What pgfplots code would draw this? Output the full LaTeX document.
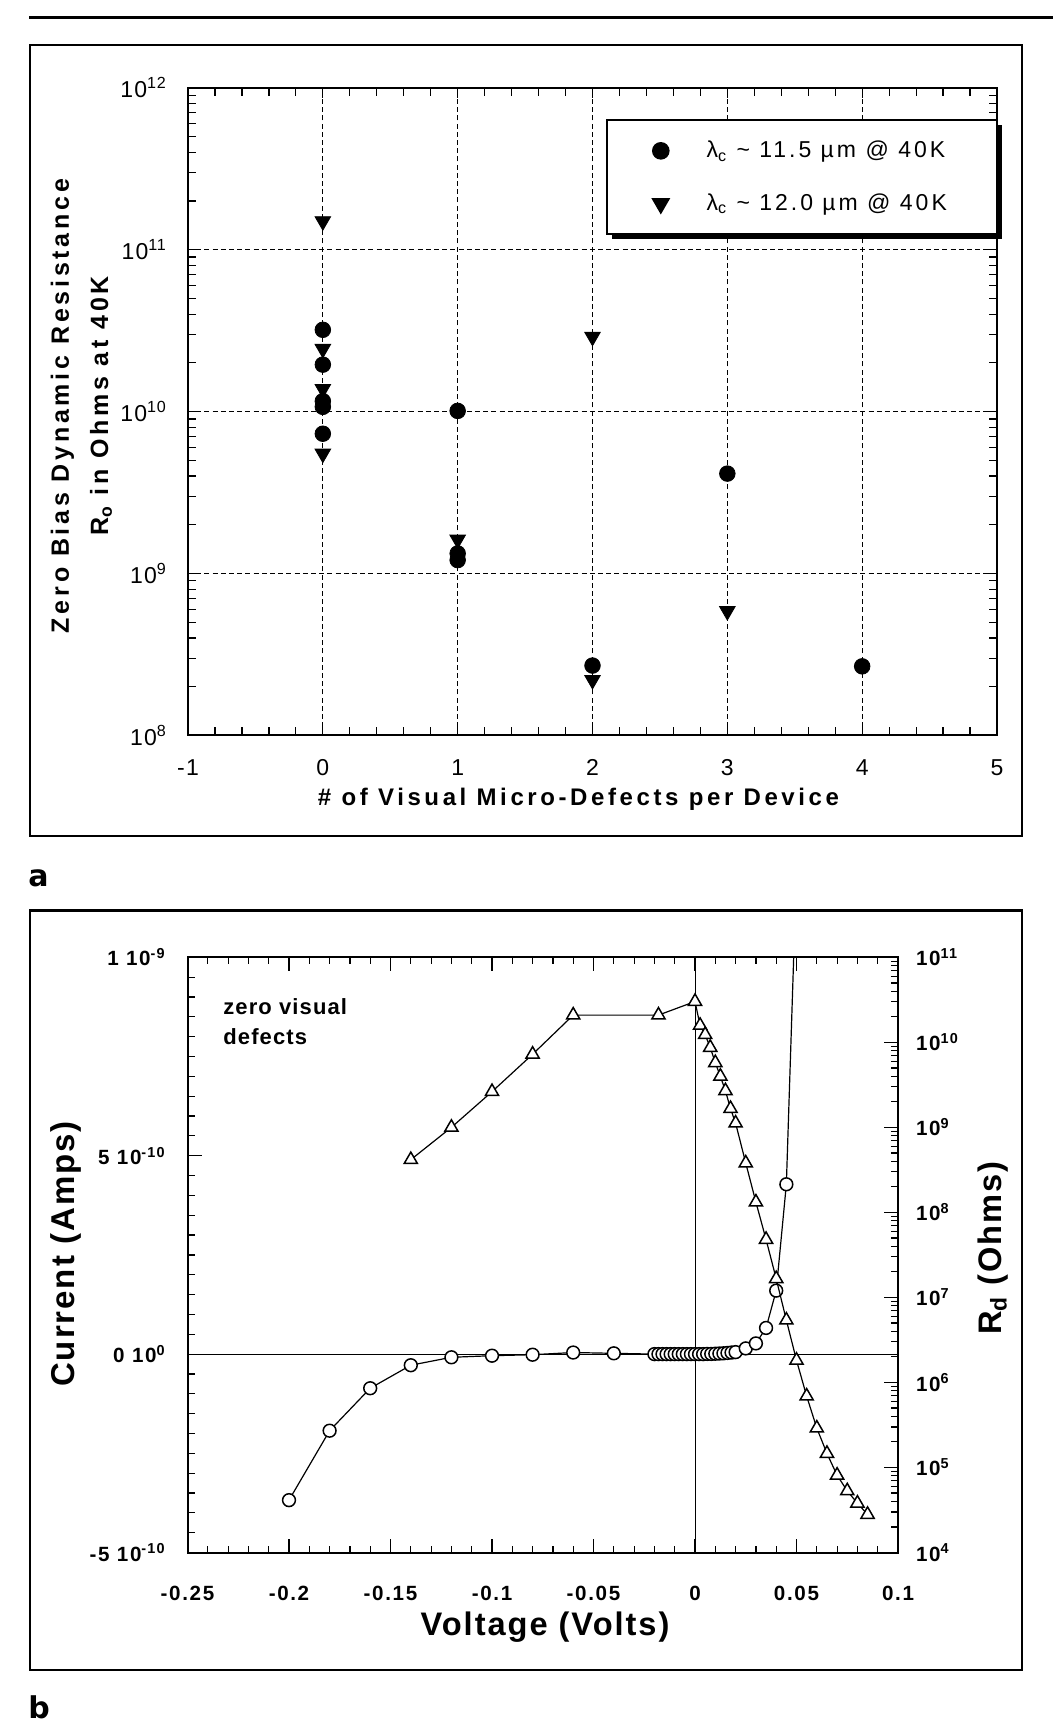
\documentclass[border=0pt]{standalone}
\usepackage{fontspec}
\setmainfont{Liberation Sans}
\newfontfamily\lsXL[LetterSpace=15]{Liberation Sans}
\newfontfamily\lsL[LetterSpace=13]{Liberation Sans}
\newfontfamily\lsM[LetterSpace=8]{Liberation Sans}
\newfontfamily\lsB[LetterSpace=6]{Liberation Sans}
\newfontfamily\lsS[LetterSpace=5]{Liberation Sans}
\newfontfamily\dvs{DejaVu Sans}
\usepackage{pgfplots}
\pgfplotsset{compat=1.18}
\usetikzlibrary{shadows}
\begin{document}
\begin{tikzpicture}
\begin{scope}[x=0.5pt,y=-0.5pt]
\path[use as bounding box] (0,0) rectangle (1053,1728);
\fill[white] (0,0) rectangle (1053,1728);
\draw[line width=1.5pt] (29,18) -- (1053,18);
\draw[line width=1.4pt] (30,45) rectangle (1022,836);
\draw[line width=1.4pt] (30,910.5) rectangle (1022,1670);
\end{scope}

% ---------------- panel a ----------------
\begin{axis}[
  at={(94pt,-367.7pt)}, anchor=south west,
  width=404.5pt, height=323.8pt, scale only axis,
  xmin=-1, xmax=5, ymode=log, ymin=1e8, ymax=1e12,
  xtick={-1,0,1,2,3,4,5}, xticklabels={-1,0,1,2,3,4,5},
  ytick={1e8,1e9,1e10,1e11,1e12},
  yticklabels={10\textsuperscript{8},10\textsuperscript{9},10\textsuperscript{10},10\textsuperscript{11},10\textsuperscript{12}},
  minor x tick num=4,
  tick align=inside,
  major tick length=5pt, minor tick length=4pt,
  axis line style={line width=1pt},
  tick style={black, line width=0.6pt},
  grid=major,
  major grid style={black, line width=0.6pt, dash pattern=on 2.5pt off 1.6pt},
  ticklabel style={font=\lsS\fontsize{11.5}{13}\selectfont},
  xticklabel style={yshift=-8.6pt},
  yticklabel style={xshift=-7pt},
  legend cell align=left,
  legend image code/.code={\draw[mark repeat=2,mark phase=2,#1] plot coordinates {(0pt,0pt) (12pt,0pt) (24pt,0pt)};},
  legend style={at={(0.5167,0.9518)}, anchor=north west, draw=black, line width=1pt, fill=white,
    inner xsep=23pt, inner ysep=8.5pt, row sep=12.5pt,
    font=\lsL\fontsize{11.5}{13}\selectfont,
    drop shadow={shadow xshift=2.5pt, shadow yshift=-2.5pt, fill=black, opacity=1},
    /tikz/every odd column/.append style={column sep=17pt}},
]
\addplot[only marks, mark=*, mark size=3.9pt, black] table {
0 3.2e10
0 1.95e10
0 1.16e10
0 1.07e10
0 7.3e9
1 1.01e10
1 1.33e9
1 1.21e9
2 2.7e8
3 4.14e9
4 2.67e8
};
\addlegendentry{λ\textsubscript{c} \textasciitilde{} 11.5 µm @ 40K}
\addplot[only marks, mark=triangle*, mark size=4.5pt, mark options={rotate=180}, black] table {
0 1.5e11
0 2.44e10
0 1.38e10
0 5.5e9
1 1.62e9
2 2.9e10
2 2.2e8
3 5.86e8
};
\addlegendentry{λ\textsubscript{c} \textasciitilde{} 12.0 µm @ 40K}
\end{axis}

% ---------------- panel b, left axis (current) ----------------
\begin{axis}[
  at={(93.75pt,-776.25pt)}, anchor=south west,
  width=355.25pt, height=297.6pt, scale only axis,
  xmin=-0.25, xmax=0.1, ymin=-5e-10, ymax=1e-9,
  xtick={-0.25,-0.2,-0.15,-0.1,-0.05,0,0.05,0.1},
  xticklabels={-0.25,-0.2,-0.15,-0.1,-0.05,0,0.05,0.1},
  minor x tick num=4,
  ytick={-5e-10,0,5e-10,1e-9},
  yticklabels={-5 10\textsuperscript{-10},0 10\textsuperscript{0},5 10\textsuperscript{-10},1 10\textsuperscript{-9}},
  minor y tick num=9,
  ytick pos=left,
  scaled y ticks=false, scaled x ticks=false,
  tick align=inside,
  major tick length=7pt, minor tick length=3.5pt,
  axis line style={line width=1pt},
  tick style={black, line width=0.6pt},
  ticklabel style={font=\lsM\bfseries\fontsize{10.3}{12}\selectfont},
  xticklabel style={yshift=-13.3pt},
  yticklabel style={xshift=-7.4pt},
]
\draw[line width=0.5pt] (axis cs:0,-5e-10) -- (axis cs:0,1e-9);
\draw[line width=0.6pt] (axis cs:-0.25,0) -- (axis cs:0.1,0);
\addplot[black, line width=0.6pt, mark=*, mark size=3.2pt, mark options={fill=white, line width=0.75pt}] table {
-0.20 -3.68e-10
-0.18 -1.93e-10
-0.16 -8.6e-11
-0.14 -2.8e-11
-0.12 -8e-12
-0.10 -4e-12
-0.08 -1.5e-12
-0.06 4e-12
-0.04 2e-12
-0.020 0
-0.018 0
-0.016 0
-0.014 0
-0.012 0
-0.010 0
-0.008 0
-0.006 0
-0.004 0
-0.002 0
0.000 0
0.002 0
0.004 0
0.006 0.5e-12
0.008 0.5e-12
0.010 1e-12
0.012 1.5e-12
0.014 2e-12
0.016 3e-12
0.018 4e-12
0.020 5e-12
0.025 1.44e-11
0.030 2.7e-11
0.035 6.6e-11
0.040 1.6e-10
0.045 4.28e-10
0.050 1.22e-9
};
\end{axis}

% ---------------- panel b, right axis (Rd) ----------------
\begin{axis}[
  at={(93.75pt,-776.25pt)}, anchor=south west,
  width=355.25pt, height=297.6pt, scale only axis,
  xmin=-0.25, xmax=0.1, ymode=log, ymin=1e4, ymax=1e11,
  axis x line=none, axis y line*=right,
  ytick={1e4,1e5,1e6,1e7,1e8,1e9,1e10,1e11},
  yticklabels={10\textsuperscript{4},10\textsuperscript{5},10\textsuperscript{6},10\textsuperscript{7},10\textsuperscript{8},10\textsuperscript{9},10\textsuperscript{10},10\textsuperscript{11}},
  tick align=inside,
  major tick length=7pt, minor tick length=3.5pt,
  axis line style={line width=1pt},
  tick style={black, line width=0.6pt},
  ticklabel style={font=\lsM\bfseries\fontsize{10.3}{12}\selectfont},
  yticklabel style={xshift=5.5pt},
]
\addplot[black, line width=0.6pt, mark=triangle*, mark size=3.8pt, mark options={fill=white, line width=0.75pt}] table {
-0.14 4.17e8
-0.12 1.0e9
-0.10 2.63e9
-0.08 7.24e9
-0.06 2.09e10
-0.018 2.09e10
0.000 3.02e10
0.0025 1.58e10
0.005 1.23e10
0.0075 8.7e9
0.010 5.75e9
0.0125 3.98e9
0.015 2.69e9
0.0175 1.66e9
0.020 1.12e9
0.025 3.8e8
0.030 1.32e8
0.035 4.8e7
0.040 1.66e7
0.045 5.4e6
0.050 1.82e6
0.055 6.9e5
0.060 2.9e5
0.065 1.46e5
0.070 8.1e4
0.075 5.3e4
0.080 3.8e4
0.085 2.8e4
};
\end{axis}

\begin{scope}[x=0.5pt,y=-0.5pt]
% panel a labels
\node[rotate=90, font=\lsXL\bfseries\fontsize{12.5}{14}\selectfont] at (62.5,406) {Zero Bias Dynamic Resistance};
\node[rotate=90, font=\lsXL\bfseries\fontsize{12.5}{14}\selectfont] at (101,406) {R\textsubscript{o} in Ohms at 40K};
\node[font=\lsXL\bfseries\fontsize{12}{14}\selectfont] at (578.5,799) {\# of Visual Micro-Defects per Device};
\node[anchor=base west, inner sep=0, font=\dvs\bfseries\fontsize{15}{18}\selectfont] at (28,886) {a};
% panel b labels
\node[rotate=90, font=\lsB\bfseries\fontsize{16.5}{19}\selectfont] at (66,1254) {Current (Amps)};
\node[font=\lsB\bfseries\fontsize{16.3}{19}\selectfont] at (545,1627) {Voltage (Volts)};
\node[rotate=90, font=\lsB\bfseries\fontsize{16.3}{19}\selectfont] at (993,1248) {R\textsubscript{d} (Ohms)};
\node[anchor=north west, align=left, inner sep=0, font=\lsS\bfseries\fontsize{11}{15}\selectfont] at (223,998) {zero visual\\defects};
\node[anchor=base west, inner sep=0, font=\dvs\bfseries\fontsize{15}{18}\selectfont] at (28,1718) {b};
\end{scope}
\end{tikzpicture}
\end{document}
